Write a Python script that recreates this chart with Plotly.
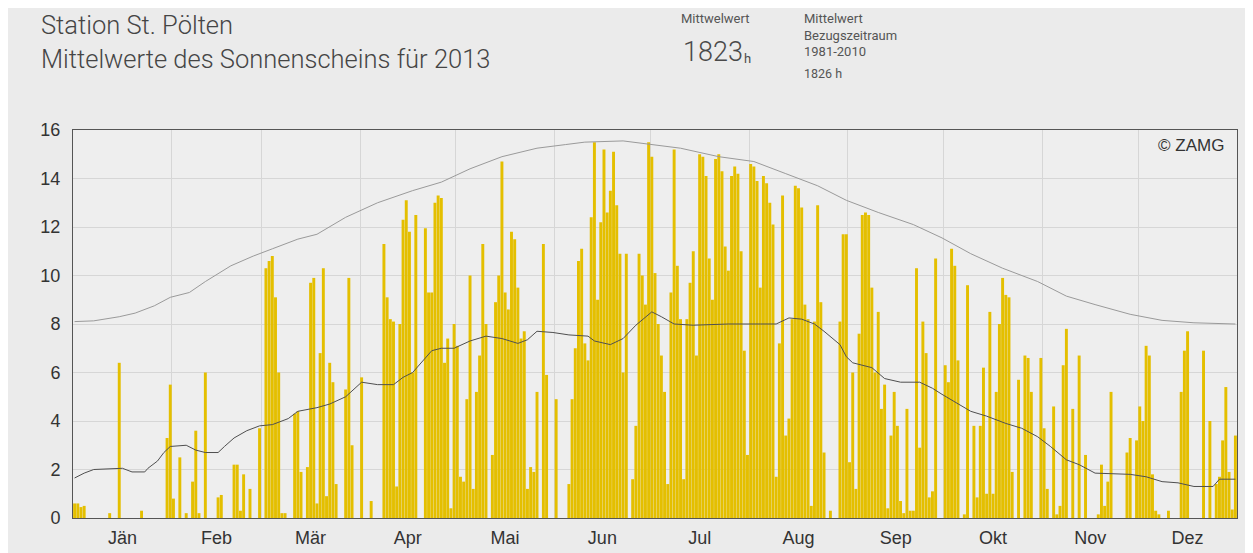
import plotly.graph_objects as go

# ---------------- data ----------------
month_names = ["Jän", "Feb", "Mär", "Apr", "Mai", "Jun", "Jul", "Aug", "Sep", "Okt", "Nov", "Dez"]
month_lengths = [31, 28, 31, 30, 31, 30, 31, 31, 30, 31, 30, 31]

sun_jan = [0.6, 0.6, 0.45, 0.5, 0, 0, 0, 0, 0, 0, 0, 0.2, 0, 0, 6.4, 0, 0, 0, 0, 0, 0, 0.3,
           0, 0, 0, 0, 0, 0, 0, 3.3, 5.5]
sun_feb = [0.8, 0, 2.5, 0, 0.2, 0, 1.5, 3.6, 0.2, 0, 6.0, 0, 0, 0, 0.85, 0.95, 0, 0, 0, 2.2,
           2.2, 0.3, 1.8, 0, 1.2, 0, 0, 3.7]
sun_mar = [0, 10.3, 10.6, 10.8, 9.1, 6.0, 0.2, 0.2, 0, 0, 4.3, 4.4, 1.9, 0, 2.1, 9.7, 9.9,
           0.6, 6.8, 10.3, 0.9, 6.4, 5.6, 1.4, 0, 0, 5.3, 9.9, 3.0, 0, 0]
sun_apr = [5.8, 0, 0, 0.7, 0, 0, 0, 11.3, 9.1, 8.2, 8.1, 1.3, 8.0, 12.3, 13.1, 11.8, 6.0,
           12.5, 0, 0, 11.95, 9.3, 9.3, 13.0, 13.3, 13.2, 6.4, 7.4, 0.4, 8.0]
sun_may = [7.1, 1.7, 1.5, 4.9, 10.0, 1.2, 5.2, 6.7, 11.3, 8.0, 0, 2.6, 8.9, 10.0, 14.7, 9.3,
           8.6, 11.8, 11.5, 9.5, 7.4, 7.7, 1.2, 2.1, 1.9, 5.2, 0, 11.3, 5.9, 0, 0]
sun_jun = [4.9, 0, 0, 0, 1.4, 4.9, 7.0, 10.6, 11.1, 7.2, 6.5, 12.4, 15.5, 9.0, 12.2, 15.2,
           12.6, 13.5, 15.1, 12.9, 10.9, 6.0, 10.9, 0, 1.6, 3.8, 10.9, 10.0, 8.8, 15.5]
sun_jul = [14.9, 10.1, 8.0, 6.7, 5.2, 1.4, 9.3, 15.2, 10.4, 8.2, 1.6, 8.2, 9.7, 11.0, 6.7,
           15.0, 14.9, 14.1, 10.7, 9.0, 14.8, 15.0, 14.3, 11.2, 10.2, 14.1, 14.5, 14.2, 11.0,
           6.9, 2.6]
sun_aug = [14.6, 14.5, 13.9, 9.5, 14.1, 13.8, 13.0, 12.1, 1.7, 7.2, 13.3, 3.4, 4.1, 8.2, 13.7,
           13.6, 12.8, 8.8, 8.2, 0.5, 8.1, 12.9, 8.9, 2.7, 0, 0.3, 0, 0, 8.1, 11.7, 11.7]
sun_sep = [2.3, 6.0, 1.2, 7.6, 12.5, 12.6, 12.5, 9.5, 6.0, 8.5, 4.5, 5.5, 0.4, 3.4, 5.2, 3.8,
           0.7, 0.2, 4.5, 0.3, 0.3, 10.3, 2.9, 8.1, 6.8, 0.85, 1.1, 10.7, 0, 0]
sun_oct = [6.3, 5.6, 11.1, 10.4, 6.5, 0, 0.15, 9.6, 0, 3.8, 0.85, 3.8, 6.2, 1.0, 8.5, 1.0, 5.2,
           8.0, 9.9, 9.2, 9.1, 1.9, 0, 5.7, 0, 6.7, 6.6, 5.2, 0, 0, 6.6]
sun_nov = [3.7, 1.2, 0, 4.6, 0.15, 0.5, 6.3, 7.8, 0, 4.5, 0, 6.7, 0, 2.6, 0, 0, 0, 0.15, 2.2,
           0.5, 1.5, 5.2, 0, 0, 0, 0, 2.7, 3.3, 0, 3.2]
sun_dec = [4.6, 4.0, 7.1, 6.7, 1.8, 0.3, 0.15, 0, 0, 0.3, 0, 0, 0, 5.2, 6.9, 7.7, 0, 0, 0, 0,
           6.9, 0, 4.0, 0, 1.4, 1.7, 3.2, 5.4, 1.9, 0.35, 3.4]

# upper grey curve (at the given day of year, 0 = 1 Jan)
upper_days = [0, 6, 14, 19, 25, 30, 36, 41, 49, 56, 62, 70, 76, 85, 95, 106, 115, 124, 134,
              145, 154, 160, 172, 181, 190, 202, 213, 223, 233, 242, 252, 263, 272, 281, 291,
              302, 311, 320, 331, 341, 351, 364]
upper_vals = [8.1, 8.13, 8.3, 8.45, 8.75, 9.1, 9.3, 9.75, 10.4, 10.8, 11.1, 11.5, 11.7, 12.4,
              13.0, 13.5, 13.85, 14.4, 14.9, 15.25, 15.4, 15.5, 15.55, 15.4, 15.25, 14.9, 14.7,
              14.2, 13.7, 13.1, 12.6, 12.1, 11.55, 10.9, 10.3, 9.75, 9.15, 8.8, 8.4, 8.15,
              8.05, 8.0]

# dark mean curve
lower_days = [0, 3, 6, 15, 18, 22, 23, 26, 28, 30, 35, 38, 41, 45, 47, 50, 54, 58, 62, 67, 70,
              76, 80, 85, 90, 95, 100, 103, 106, 109, 112, 115, 119, 124, 129, 134, 139, 142,
              145, 150, 155, 161, 163, 168, 172, 176, 181, 184, 188, 194, 205, 215, 220, 224,
              228, 232, 235, 240, 242, 244, 250, 254, 259, 265, 269, 272, 277, 281, 286, 292,
              297, 302, 306, 311, 315, 320, 331, 336, 341, 346, 351, 357, 359, 364]
lower_vals = [1.65, 1.85, 2.0, 2.05, 1.9, 1.9, 2.05, 2.35, 2.7, 2.95, 3.0, 2.8, 2.7, 2.7, 2.95,
              3.3, 3.6, 3.8, 3.85, 4.1, 4.4, 4.55, 4.7, 5.0, 5.6, 5.5, 5.5, 5.8, 6.0, 6.45, 6.9,
              7.0, 7.0, 7.3, 7.5, 7.4, 7.2, 7.35, 7.7, 7.65, 7.55, 7.5, 7.3, 7.15, 7.4, 7.95,
              8.5, 8.3, 8.0, 7.95, 8.0, 8.0, 8.0, 8.25, 8.2, 8.0, 7.7, 7.15, 6.65, 6.4, 6.2,
              5.75, 5.6, 5.6, 5.35, 5.1, 4.7, 4.4, 4.2, 3.9, 3.7, 3.35, 2.95, 2.4, 2.2, 1.85,
              1.8, 1.7, 1.5, 1.45, 1.3, 1.3, 1.6, 1.6]

y_ticks = [0, 2, 4, 6, 8, 10, 12, 14, 16]

# ---------------- derived ----------------
sunshine = (sun_jan + sun_feb + sun_mar + sun_apr + sun_may + sun_jun + sun_jul + sun_aug
            + sun_sep + sun_oct + sun_nov + sun_dec)
days = list(range(len(sunshine)))

month_starts = []
acc = 0
for L in month_lengths:
    month_starts.append(acc)
    acc += L
month_bounds = [s - 0.5 for s in month_starts] + [acc - 0.5]
month_mids = [s + L / 2 - 0.5 for s, L in zip(month_starts, month_lengths)]

# ---------------- figure ----------------
OFF = 8                      # default page body margin
W, H = 1253 - OFF, 553 - OFF
# plot area in page pixels: x 73..1237, y 130..518
ML, MR, MT, MB = 73 - OFF, 1253 - 1237, 130 - OFF, 553 - 518
PW, PH = W - ML - MR, H - MT - MB


def px(x):
    return (x - OFF - ML) / PW


def py(y):
    return (H - MB - (y - OFF)) / PH


fig = go.Figure()
fig.add_trace(go.Bar(x=days, y=sunshine, marker=dict(color="#e4bf00", line=dict(width=0)),
                     hoverinfo="x+y"))
fig.add_trace(go.Scatter(x=upper_days, y=upper_vals, mode="lines",
                         line=dict(color="#9a9a9a", width=1)))
fig.add_trace(go.Scatter(x=lower_days, y=lower_vals, mode="lines",
                         line=dict(color="#4f4f4f", width=1)))

fig.update_layout(
    width=W, height=H,
    margin=dict(l=ML, r=MR, t=MT, b=MB, autoexpand=False),
    paper_bgcolor="#ebebeb",
    plot_bgcolor="#eeeeee",
    showlegend=False,
    bargap=0.08,
    font=dict(family="Liberation Sans, Arial, sans-serif", color="#333333"),
    xaxis=dict(
        range=[-0.5, acc - 0.5], automargin=False,
        tickmode="array", tickvals=month_mids, ticktext=month_names,
        showgrid=False, zeroline=False,
        showline=True, mirror=True, linecolor="#555555", linewidth=1,
        ticks="outside", ticklen=3, tickcolor="rgba(0,0,0,0)",
        tickfont=dict(size=18, color="#333333"),
        minor=dict(tickmode="array", tickvals=month_bounds, showgrid=True,
                   gridcolor="#d6d6d6", gridwidth=1, ticks=""),
    ),
    yaxis=dict(
        range=[0, 16], automargin=False,
        tickmode="array", tickvals=y_ticks,
        showgrid=True, gridcolor="#d6d6d6", gridwidth=1, zeroline=False,
        showline=True, mirror=True, linecolor="#555555", linewidth=1,
        ticks="outside", ticklen=8, tickcolor="rgba(0,0,0,0)",
        tickfont=dict(size=18, color="#333333"),
    ),
)

hdr = "Roboto, Open Sans, sans-serif"
ann = [
    dict(text="Station St. Pölten", x=px(39), y=py(25), size=25.5, color="#454545", font=hdr, w=300),
    dict(text="Mittelwerte des Sonnenscheins für 2013", x=px(39), y=py(59), size=25.5,
         color="#454545", font=hdr, w=300),
    dict(text="Mittwelwert", x=px(679), y=py(19), size=13, color="#555555", font=hdr, w=400),
    dict(text="1823", x=px(681), y=py(52), size=27, color="#4a4a4a", font=hdr, w=300),
    dict(text="h", x=px(742), y=py(58), size=13, color="#4a4a4a", font=hdr, w=400),
    dict(text="Mittelwert", x=px(802), y=py(19), size=13, color="#555555", font=hdr, w=400),
    dict(text="Bezugszeitraum", x=px(802), y=py(35), size=13, color="#555555", font=hdr, w=400),
    dict(text="1981-2010", x=px(802), y=py(51), size=13, color="#555555", font=hdr, w=400),
    dict(text="1826 h", x=px(802), y=py(73), size=12.5, color="#555555", font=hdr, w=400),
]
annotations = []
for a in ann:
    annotations.append(dict(text=a["text"], x=a["x"], y=a["y"], xref="paper", yref="paper",
                            xanchor="left", yanchor="middle", showarrow=False,
                            font=dict(size=a["size"], color=a["color"], family=a["font"],
                                      weight=a["w"])))
annotations.append(dict(text="© ZAMG", x=px(1226), y=py(145), xref="paper", yref="paper",
                        xanchor="right", yanchor="middle", showarrow=False,
                        font=dict(size=17, color="#333333",
                                  family="Liberation Sans, Arial, sans-serif")))
fig.update_layout(annotations=annotations)

fig.write_html("out.html")
